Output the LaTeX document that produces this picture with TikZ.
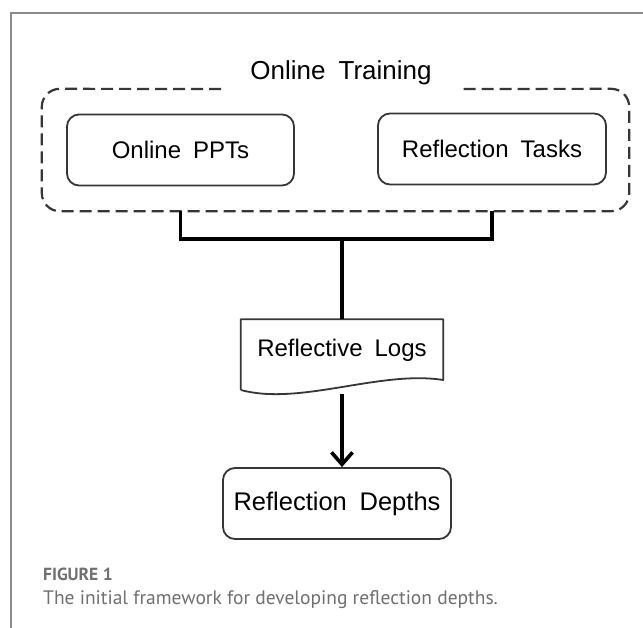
\documentclass[tikz,border=0pt]{standalone}
\usepackage{fontspec}
\usetikzlibrary{arrows.meta}
\newfontfamily\diagfont[WordSpace=1.8]{Liberation Sans}
\newfontfamily\capfont{PT Sans}
\definecolor{framegray}{HTML}{8A8A8A}
\definecolor{boxgray}{HTML}{363636}
\definecolor{capgray}{HTML}{707070}
\tikzset{
  roundbox/.style={draw=boxgray, line width=1.8pt, rounded corners=12pt,
    inner sep=0pt, font=\diagfont\fontsize{24}{28}\selectfont},
  plainnode/.style={inner sep=0pt, font=\diagfont\fontsize{24}{28}\selectfont},
  dashline/.style={draw=boxgray, line width=2.2pt, dash pattern=on 12pt off 6pt, rounded corners=18pt},
  link/.style={draw=black, line width=3.6pt},
  arrowlink/.style={link, -{Straight Barb[length=12pt, width=21pt, line width=3.6pt]}},
}
\begin{document}
\begin{tikzpicture}[x=1pt, y=-1pt]
\useasboundingbox (0,0) rectangle (643,628);
\fill[white] (0,0) rectangle (643,628);

% panel frame
\draw[framegray, line width=2pt] (11,628) -- (11,13) -- (643,13);

% online training group
\node[inner sep=0pt, minimum width=587pt, minimum height=122pt] (train) at (335.5,150) {};
\node[anchor=base, inner sep=0pt, font=\diagfont\fontsize{26}{30}\selectfont] (title) at (341,80) {Online Training};
\coordinate (gapL) at (221,89);
\coordinate (gapR) at (461,89);
\draw[dashline] (gapL) -- (train.north west) -- (train.south west) -- (train.south east) -- (train.north east) -- (gapR);

\node[roundbox, minimum width=227pt, minimum height=71pt] (ppt) at (180.5,150) {Online PPTs};
\node[roundbox, minimum width=228pt, minimum height=71pt] (tasks) at (492,149) {Reflection Tasks};

% reflective logs (document shape)
\node[plainnode, minimum width=202pt, minimum height=61pt] (logs) at (342,350) {Reflective Logs};
\draw[boxgray, line width=1.8pt, line join=round]
  (logs.south west |- 0,390) -- (logs.north west) -- (logs.north east) -- (logs.south east |- 0,380)
  .. controls (380,370) and (300,406) .. (logs.south west |- 0,390);

\node[roundbox, minimum width=228pt, minimum height=71pt, font=\diagfont\fontsize{25.5}{30}\selectfont] (depth) at (337,503.5) {Reflection Depths};

% connectors
\coordinate (join) at (342,239);
\coordinate (logtop) at (342,319);
\coordinate (logbot) at (342,394);
\draw[link] (ppt.south |- train.south) -- (ppt.south |- join) -- (tasks.south |- join) -- (tasks.south |- train.south);
\draw[link] (join) -- (logtop);
\draw[arrowlink] (logbot) -- (logbot |- depth.north);

% caption
\node[anchor=base west, inner sep=0pt, text=capgray, font=\capfont\bfseries\fontsize{17.5}{20}\selectfont] (fig) at (43,580) {FIGURE 1};
\node[anchor=base west, inner sep=0pt, text=capgray, font=\capfont\fontsize{19.5}{22}\selectfont] (cap) at (43,604) {The initial framework for developing reflection depths.};
\end{tikzpicture}
\end{document}
